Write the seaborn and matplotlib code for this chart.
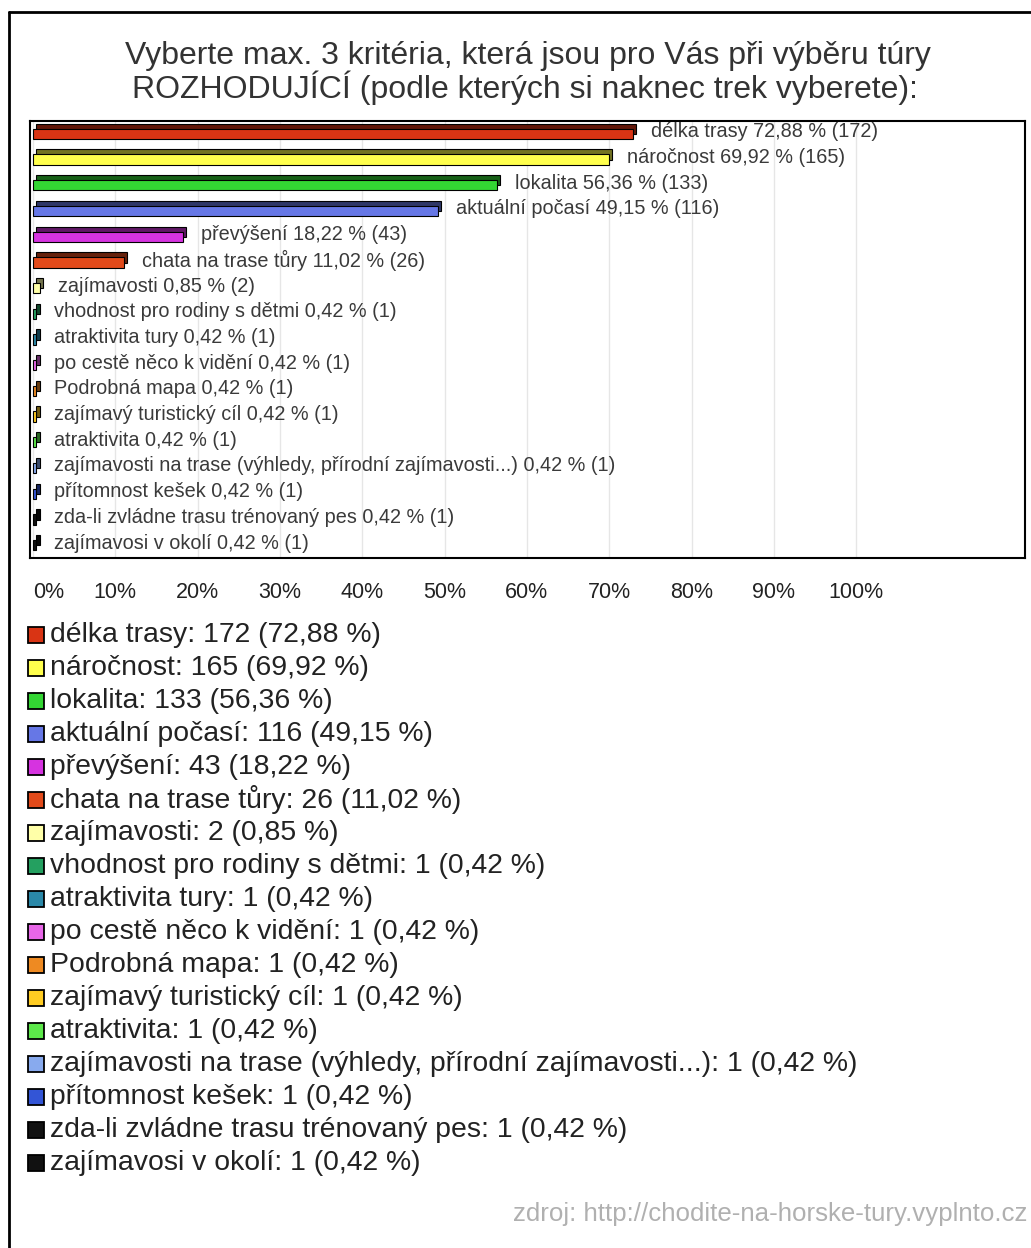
import matplotlib
matplotlib.use("Agg")
import numpy as np
import pandas as pd
import seaborn as sns
import matplotlib.pyplot as plt
import matplotlib.transforms as mtransforms
from matplotlib.patches import Rectangle
from matplotlib.lines import Line2D
import matplotlib.colors as mcolors

# ---- data -------------------------------------------------------------
categories = [
    "délka trasy",
    "náročnost",
    "lokalita",
    "aktuální počasí",
    "převýšení",
    "chata na trase tůry",
    "zajímavosti",
    "vhodnost pro rodiny s dětmi",
    "atraktivita tury",
    "po cestě něco k vidění",
    "Podrobná mapa",
    "zajímavý turistický cíl",
    "atraktivita",
    "zajímavosti na trase (výhledy, přírodní zajímavosti...)",
    "přítomnost kešek",
    "zda-li zvládne trasu trénovaný pes",
    "zajímavosi v okolí",
]
counts = [172, 165, 133, 116, 43, 26, 2, 1, 1, 1, 1, 1, 1, 1, 1, 1, 1]
percents = [72.88, 69.92, 56.36, 49.15, 18.22, 11.02, 0.85,
            0.42, 0.42, 0.42, 0.42, 0.42, 0.42, 0.42, 0.42, 0.42, 0.42]
tick_values = [0, 10, 20, 30, 40, 50, 60, 70, 80, 90, 100]

title_lines = [
    "Vyberte max. 3 kritéria, která jsou pro Vás při výběru túry",
    "ROZHODUJÍCÍ (podle kterých si naknec trek vyberete):",
]
source_text = "zdroj: http://chodite-na-horske-tury.vyplnto.cz"

# ---- styling ----------------------------------------------------------
colors = [
    "#d93414", "#ffff4d", "#33d633", "#6677e6", "#d633e0", "#e24a1a",
    "#ffffa8", "#24a060", "#2a88a8", "#e866e8", "#ee8a22", "#ffcc22",
    "#5ce84a", "#88aaee", "#3355d6", "#111111", "#111111",
]
dark_colors = [tuple(np.array(mcolors.to_rgb(c)) * 0.45) for c in colors]

sns.set_theme(style="white")
plt.rcParams["font.family"] = ["Liberation Sans", "DejaVu Sans"]

W, H = 1031, 1248
fig = plt.figure(figsize=(W / 100, H / 100), dpi=100)
fig.patch.set_facecolor("white")


def fx(px):
    return px / W


def fy(py):
    return 1 - py / H


ax_left, ax_right, ax_top, ax_bottom = 30, 1025, 121, 558
ax = fig.add_axes([fx(ax_left), fy(ax_bottom), fx(ax_right - ax_left),
                   (ax_bottom - ax_top) / H])

df = pd.DataFrame({"kriterium": categories, "procenta": percents,
                   "pocet": counts})

# back faces of the 3D bars, shifted right/up in screen space
sns.barplot(data=df, y="kriterium", x="procenta", hue="kriterium",
            order=categories, hue_order=categories, palette=dark_colors,
            width=0.4, legend=False, ax=ax, edgecolor="black",
            linewidth=0.8, saturation=1)
n_back = len(ax.patches)
shift = mtransforms.ScaledTranslation(3.5 / 100, 5 / 100, fig.dpi_scale_trans)
for p in ax.patches[:n_back]:
    p.set_transform(ax.transData + shift)

# front faces
sns.barplot(data=df, y="kriterium", x="procenta", hue="kriterium",
            order=categories, hue_order=categories, palette=colors,
            width=0.4, legend=False, ax=ax, edgecolor="black",
            linewidth=0.8, saturation=1)

# value labels next to the bars
for i, (cat, pct, n) in enumerate(zip(categories, percents, counts)):
    pct_s = f"{pct:.2f}".replace(".", ",")
    ax.annotate(f"{cat} {pct_s} % ({n})", xy=(pct, i), xytext=(13, 1.5),
                textcoords="offset points", ha="left", va="center",
                fontsize=14.3, color="#3a3a3a")

ax.set_xlim(-0.36, 120.5)
ax.set_xticks(tick_values)
ax.set_xticklabels([f"{v}%" for v in tick_values], fontsize=15.5,
                   color="#222222")
ax.get_xticklabels()[0].set_horizontalalignment("left")
ax.tick_params(axis="x", length=0, pad=17)
ax.set_yticks([])
ax.set_xlabel("")
ax.set_ylabel("")
ax.xaxis.grid(True, color="#e6e6e6", linewidth=1)
ax.set_axisbelow(True)
for s in ax.spines.values():
    s.set_visible(True)
    s.set_color("black")
    s.set_linewidth(1.5)

# title
fig.text(fx(528), fy(64), title_lines[0], ha="center", va="baseline",
         fontsize=23, color="#333333")
fig.text(fx(525), fy(98), title_lines[1], ha="center", va="baseline",
         fontsize=23, color="#333333")

# legend list below the chart
leg_y0, leg_step = 635, 33
for i, (cat, pct, n, c) in enumerate(zip(categories, percents, counts, colors)):
    yc = leg_y0 + i * leg_step
    fig.add_artist(Rectangle((fx(28), fy(yc + 8)), fx(16), 16 / H,
                             facecolor=c, edgecolor="black", linewidth=1.3,
                             transform=fig.transFigure))
    pct_s = f"{pct:.2f}".replace(".", ",")
    fig.text(fx(50), fy(yc), f"{cat}: {n} ({pct_s} %)", ha="left",
             va="center", fontsize=20.4, color="#222222")

# source line
fig.text(fx(1027), fy(1214), source_text, ha="right", va="center",
         fontsize=18.6, color="#b0b0b0")

# outer frame (left and top edges)
fig.add_artist(Line2D([fx(9), fx(9)], [fy(12), 0], color="black",
                      linewidth=2, transform=fig.transFigure))
fig.add_artist(Line2D([fx(9), 1], [fy(12), fy(12)], color="black",
                      linewidth=2, transform=fig.transFigure))

fig.savefig("out.png", dpi=100, facecolor="white")
